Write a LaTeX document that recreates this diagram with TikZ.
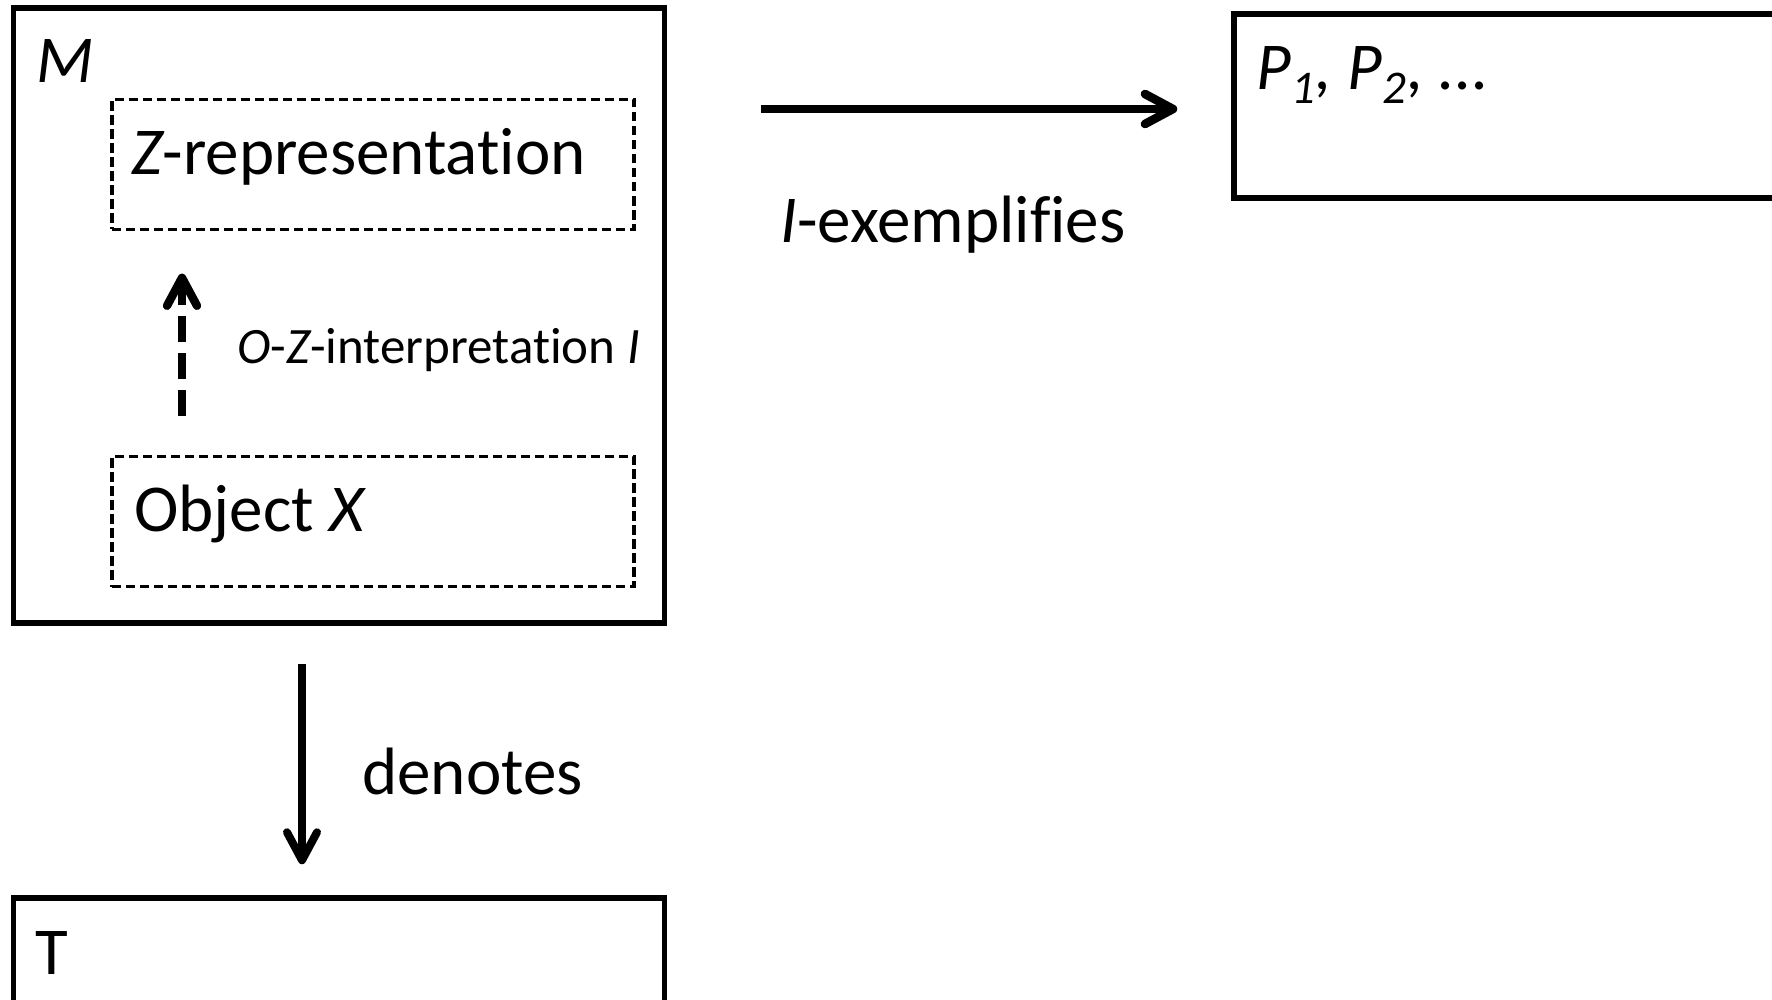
\documentclass[tikz,border=0pt]{standalone}
\usepackage{fontspec}
\setmainfont{Carlito}[Ligatures=NoCommon]
\usetikzlibrary{arrows.meta}
\begin{document}
\begin{tikzpicture}[x=0.5pt,y=-0.5pt,
  frame/.style={draw, line width=2.75pt, rectangle, inner sep=0pt},
  subframe/.style={draw, line width=1.6pt, dash pattern=on 4.6pt off 2.4pt, rectangle, inner sep=0pt},
  big/.style={font=\fontsize{33.5}{40}\selectfont, inner sep=0pt, anchor=base west},
  small/.style={font=\fontsize{25.5}{30}\selectfont, inner sep=0pt, anchor=base west},
  tip/.style={-{Straight Barb[length=14pt,width=15pt,round]}},
  link/.style={tip, line width=#1},
  dashlink/.style={tip, line width=4.2pt, dash pattern=on 13pt off 5.5pt},
]
\useasboundingbox (0,0) rectangle (1772,1000);
\fill[white] (0,0) rectangle (1772,1000);
\clip (0,0) rectangle (1772,1000);

% outer model box and its two inner parts
\node[frame, minimum width=325.5pt, minimum height=307.5pt] (mbox) at (339,315.3) {};
\node[subframe, minimum width=261pt, minimum height=65pt] (zrep) at (373,164.5) {};
\node[subframe, minimum width=261pt, minimum height=65pt] (objx) at (373,521.5) {};

% target box (runs off the bottom edge) and property box (runs off the right edge)
\node[frame, minimum width=325.5pt, minimum height=60pt] (tbox) at (339,958) {};
\node[frame, minimum width=280pt, minimum height=92.2pt] (pbox) at (1514,106) {};

% texts
\node[big] (mlabel) at (36,83) {\itshape M};
\node[big] (zlabel) at (131,175) {{\itshape Z}-representation};
\node[big] (olabel) at (134,531) {Object {\itshape X}};
\node[small] (ilabel) at (237,364) {{\itshape O}-{\itshape Z}-interpretation {\itshape I}};
\node[big] (dlabel) at (362,794) {denotes};
\node[big] (tlabel) at (35,974) {T};
\node[big] (elabel) at (780,243) {{\itshape I}-exemplifies};
\node[big] (plabel) at (1256,90) {\itshape P\textsubscript{1}, P\textsubscript{2}, ...};

% connectors
\coordinate (ix) at (182,0);
\coordinate (dx) at (302,0);
\coordinate (ey) at (0,109);
\draw[dashlink, shorten <=19.25pt, shorten >=21.25pt] (objx.north -| ix) -- (zrep.south -| ix);
\draw[link=4pt, shorten <=19.1pt, shorten >=15.5pt] (mbox.south -| dx) -- (tbox.north -| dx);
\draw[link=4.3pt, shorten <=46.75pt, shorten >=27pt] (mbox.east |- ey) -- (pbox.west |- ey);
\end{tikzpicture}
\end{document}
